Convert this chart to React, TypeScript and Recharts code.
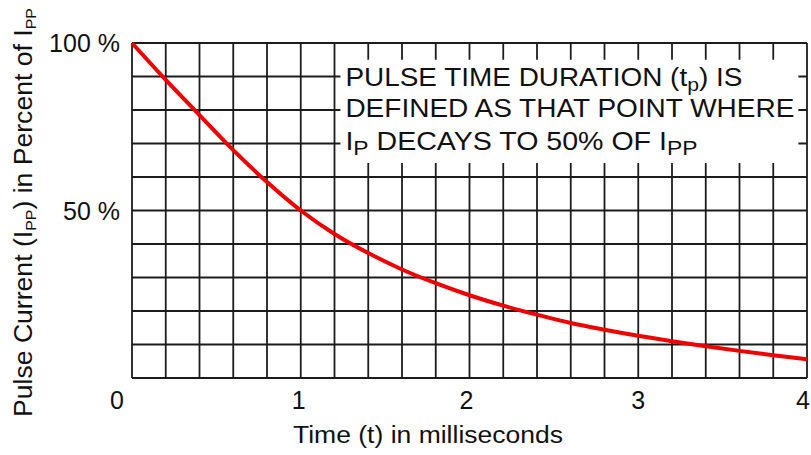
import React from "react";
import { LineChart, Line, XAxis, YAxis, CartesianGrid, ReferenceArea, Label } from "recharts";

// time in ms, pulse current in % of Ipp
const timeMs = [0, 0.2, 0.4, 0.6, 0.8, 1.0, 1.2, 1.4, 1.6, 1.8, 2.0, 2.2, 2.4, 2.6, 2.8, 3.0, 3.2, 3.4, 3.6, 3.8, 4.0];
const pulsePct = [100, 89, 78.5, 68, 58.5, 50, 43, 37.3, 32.4, 28.3, 24.7, 21.6, 18.9, 16.4, 14.4, 12.6, 11.0, 9.5, 8.1, 6.8, 5.6];

const xTicks = [0, 1, 2, 3, 4];
const yTicks = [50, 100];
const gridX = [0, 0.2, 0.4, 0.6, 0.8, 1, 1.2, 1.4, 1.6, 1.8, 2, 2.2, 2.4, 2.6, 2.8, 3, 3.2, 3.4, 3.6, 3.8, 4];
const gridY = [0, 10, 20, 30, 40, 50, 60, 70, 80, 90, 100];

// annotation box extents (data units)
const noteBox = { x1: 1.235, x2: 3.949, y1: 64.2, y2: 95 };

const data = timeMs.map((t, i) => ({ t, v: pulsePct[i] }));

const FONT = "'Liberation Sans', Arial, Helvetica, sans-serif";
const INK = "#111";

const xNudge: Record<number, number> = { 0: -15, 1: -2, 2: -3, 3: 0, 4: -4 };

const XTick = (props: any) => {
  const { x, y, payload } = props;
  return (
    <text x={x + (xNudge[payload.value] ?? 0)} y={y + 31} textAnchor="middle" fontFamily={FONT} fontSize={25} fill={INK}>
      {payload.value}
    </text>
  );
};

const YTick = (props: any) => {
  const { x, y, payload } = props;
  return (
    <text x={x} y={y + 9} textAnchor="end" fontFamily={FONT} fontSize={25} fill={INK}>
      {payload.value} %
    </text>
  );
};

const yLabel = () => (
  <text
    transform="translate(31.5,417) rotate(-90)"
    fontFamily={FONT}
    fontSize={25}
    fill={INK}
    textLength={409}
    lengthAdjust="spacingAndGlyphs"
  >
    Pulse Current (I<tspan fontSize={15} dy={4}>PP</tspan>
    <tspan dy={-4}>) in Percent of I</tspan>
    <tspan fontSize={15} dy={4}>PP</tspan>
  </text>
);

const xLabel = () => (
  <text x={293} y={443} fontFamily={FONT} fontSize={23} fill={INK} textLength={270} lengthAdjust="spacingAndGlyphs">
    Time (t) in milliseconds
  </text>
);

const noteText = (props: any) => {
  const vb = props.viewBox;
  const x = vb.x + 5;
  const top = vb.y;
  return (
    <g fontFamily={FONT} fontSize={25} fill={INK}>
      <text x={x} y={top + 26} textLength={397} lengthAdjust="spacingAndGlyphs">
        PULSE TIME DURATION (t<tspan fontSize={19} dy={5}>p</tspan>
        <tspan dy={-5}>) IS</tspan>
      </text>
      <text x={x} y={top + 57} textLength={449} lengthAdjust="spacingAndGlyphs">
        DEFINED AS THAT POINT WHERE
      </text>
      <text x={x} y={top + 90} textLength={352} lengthAdjust="spacingAndGlyphs">
        I<tspan fontSize={20} dy={5}>P</tspan>
        <tspan dy={-5}> DECAYS TO 50% OF I</tspan>
        <tspan fontSize={20} dy={5}>PP</tspan>
      </text>
    </g>
  );
};

// grid every 0.2 ms / 10 %, through the axis scale when it is exposed
const vLines = ({ xAxis, offset }: any) =>
  gridX.map((v) =>
    typeof xAxis?.scale === "function" ? xAxis.scale(v) : offset.left + (v / 4) * offset.width
  );
const hLines = ({ yAxis, offset }: any) =>
  gridY.map((v) =>
    typeof yAxis?.scale === "function" ? yAxis.scale(v) : offset.top + (1 - v / 100) * offset.height
  );

export default function App() {
  return (
    <div style={{ position: "absolute", left: 0, top: 0, width: 811, height: 455, background: "#fff" }}>
      <LineChart width={811} height={455} data={data} margin={{ top: 43, right: 4, left: 0, bottom: 0 }}>
        <CartesianGrid
          stroke="#1c1c1c"
          strokeWidth={1.8}
          verticalCoordinatesGenerator={vLines}
          horizontalCoordinatesGenerator={hLines}
        />
        <XAxis
          dataKey="t"
          type="number"
          domain={[0, 4]}
          ticks={xTicks}
          height={77}
          axisLine={false}
          tickLine={false}
          tickSize={0}
          tickMargin={0}
          tick={<XTick />}
        >
          <Label content={xLabel} />
        </XAxis>
        <YAxis
          type="number"
          domain={[0, 100]}
          ticks={yTicks}
          width={132}
          axisLine={false}
          tickLine={false}
          tickSize={0}
          tickMargin={12}
          tick={<YTick />}
        >
          <Label content={yLabel} />
        </YAxis>
        <ReferenceArea
          x1={noteBox.x1}
          x2={noteBox.x2}
          y1={noteBox.y1}
          y2={noteBox.y2}
          fill="#fff"
          fillOpacity={1}
          stroke="none"
          label={noteText}
        />
        <Line type="monotone" dataKey="v" stroke="#f00000" strokeWidth={4} dot={false} isAnimationActive={false} />
      </LineChart>
    </div>
  );
}
